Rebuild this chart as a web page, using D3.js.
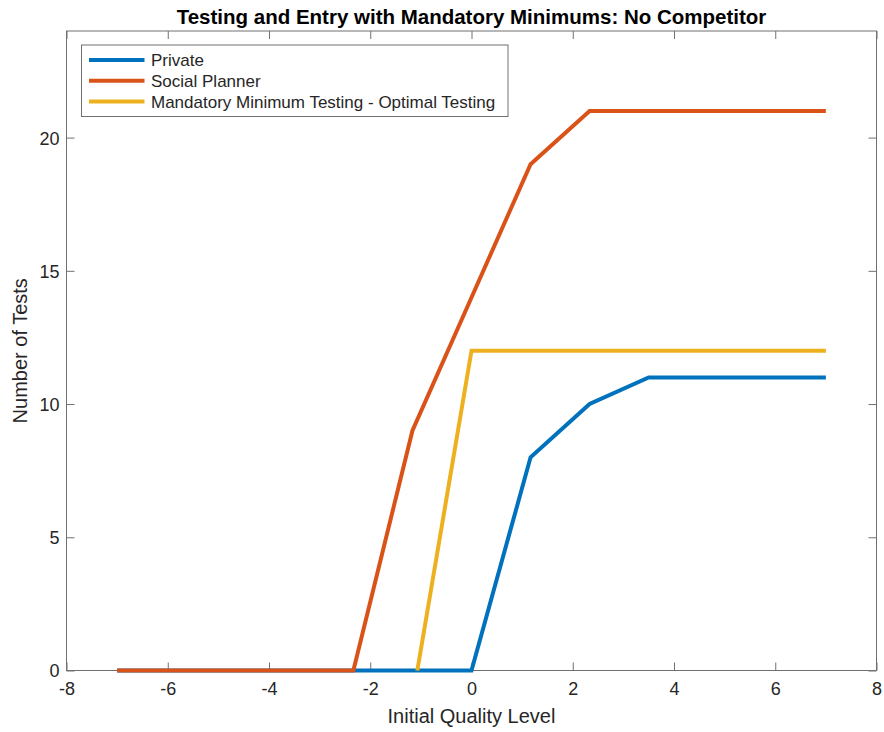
<!DOCTYPE html>
<html>
<head>
<meta charset="utf-8">
<script src="https://cdn.jsdelivr.net/npm/d3@7"></script>
<style>
  body { margin: 0; background: #fff; }
  svg { font-family: "Liberation Sans", Helvetica, Arial, sans-serif; }
</style>
</head>
<body>
<div id="chart"></div>
<script>
// x grid shared by private and social planner series
const qualityLevels = [-7, -5.833, -4.667, -3.5, -2.333, -1.167, 0, 1.167, 2.333, 3.5, 4.667, 5.833, 7];
const privateTests = [0, 0, 0, 0, 0, 0, 0, 8, 10, 11, 11, 11, 11];
const socialTests = [0, 0, 0, 0, 0, 9, 14, 19, 21, 21, 21, 21, 21];
// mandatory minimum series starts a little later
const mandatoryLevels = [-1.07, 0, 1.167, 2.333, 3.5, 4.667, 5.833, 7];
const mandatoryTests = [0, 12, 12, 12, 12, 12, 12, 12];

const xTicks = [-8, -6, -4, -2, 0, 2, 4, 6, 8];
const yTicks = [0, 5, 10, 15, 20];

const seriesNames = ['Private', 'Social Planner', 'Mandatory Minimum Testing - Optimal Testing'];
const seriesColors = ['#0072BD', '#D95319', '#EDB120'];

const width = 884, height = 732;
const margin = {top: 31, right: 7.5, bottom: 61.5, left: 66.5};
const innerW = width - margin.left - margin.right;
const innerH = height - margin.top - margin.bottom;

const svg = d3.select('#chart').append('svg')
    .attr('width', width)
    .attr('height', height);

const x = d3.scaleLinear().domain([-8, 8]).range([0, innerW]);
const y = d3.scaleLinear().domain([0, 24]).range([innerH, 0]);

const g = svg.append('g')
    .attr('transform', `translate(${margin.left},${margin.top})`);

const axisColor = '#707070';
const textColor = '#262626';

// box
g.append('rect')
    .attr('width', innerW)
    .attr('height', innerH)
    .attr('fill', 'none')
    .attr('stroke', axisColor)
    .attr('stroke-width', 1);

// axes with inward ticks, plain hyphen minus like matlab
const fmt = d => String(d);
const xAxis = g.append('g')
    .attr('transform', `translate(0,${innerH})`)
    .call(d3.axisBottom(x).tickValues(xTicks).tickSize(-8).tickFormat(fmt));
const xTop = g.append('g')
    .call(d3.axisTop(x).tickValues(xTicks).tickSize(-8).tickFormat(''));
const yAxis = g.append('g')
    .call(d3.axisLeft(y).tickValues(yTicks).tickSize(-8).tickFormat(fmt));
const yRight = g.append('g')
    .attr('transform', `translate(${innerW},0)`)
    .call(d3.axisRight(y).tickValues(yTicks).tickSize(-8).tickFormat(''));

[xAxis, xTop, yAxis, yRight].forEach(a => {
    a.select('.domain').remove();
    a.selectAll('.tick line').attr('stroke', axisColor);
    a.selectAll('.tick text')
        .attr('fill', textColor)
        .style('font-size', '18px');
});
xAxis.selectAll('.tick text').attr('dy', '0.71em').attr('y', 12);
yAxis.selectAll('.tick text').attr('dy', '0.36em').attr('x', -7);

// lines
const line = d3.line()
    .x(d => x(d[0]))
    .y(d => y(d[1]));

const seriesData = [
    d3.zip(qualityLevels, privateTests),
    d3.zip(qualityLevels, socialTests),
    d3.zip(mandatoryLevels, mandatoryTests)
];

g.selectAll('.series')
    .data(seriesData)
    .enter()
    .append('path')
    .attr('class', 'series')
    .attr('d', line)
    .attr('fill', 'none')
    .attr('stroke', (d, i) => seriesColors[i])
    .attr('stroke-width', 4)
    .attr('stroke-linejoin', 'miter');

// title and labels
svg.append('text')
    .attr('x', margin.left + innerW / 2)
    .attr('y', 23.5)
    .attr('text-anchor', 'middle')
    .attr('fill', '#000')
    .style('font-size', '20.5px')
    .style('font-weight', 'bold')
    .text('Testing and Entry with Mandatory Minimums: No Competitor');

svg.append('text')
    .attr('x', margin.left + innerW / 2)
    .attr('y', 723)
    .attr('text-anchor', 'middle')
    .attr('fill', textColor)
    .style('font-size', '20px')
    .text('Initial Quality Level');

svg.append('text')
    .attr('transform', `translate(27,${margin.top + innerH / 2}) rotate(-90)`)
    .attr('text-anchor', 'middle')
    .attr('fill', textColor)
    .style('font-size', '20px')
    .text('Number of Tests');

// legend
const legend = svg.append('g').attr('transform', 'translate(81.5,45)');
legend.append('rect')
    .attr('width', 426.5)
    .attr('height', 71.5)
    .attr('fill', '#fff')
    .attr('stroke', axisColor)
    .attr('stroke-width', 1);

const items = legend.selectAll('.item')
    .data(seriesNames)
    .enter()
    .append('g')
    .attr('class', 'item')
    .attr('transform', (d, i) => `translate(0,${15 + i * 20.8})`);

items.append('line')
    .attr('x1', 7.5)
    .attr('x2', 63)
    .attr('stroke', (d, i) => seriesColors[i])
    .attr('stroke-width', 4);

items.append('text')
    .attr('x', 69.5)
    .attr('dy', '0.36em')
    .attr('fill', textColor)
    .style('font-size', '17px')
    .text(d => d);
</script>
</body>
</html>
